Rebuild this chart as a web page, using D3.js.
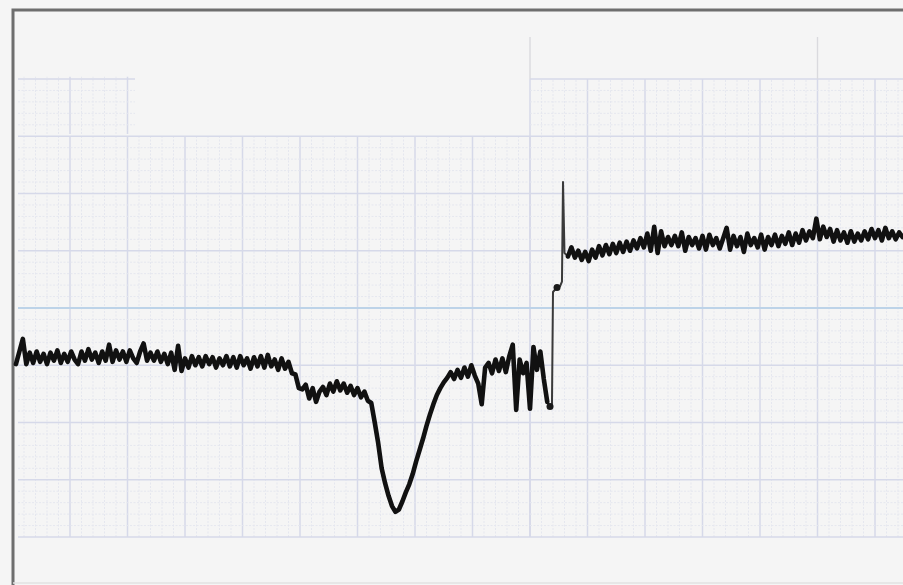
<!DOCTYPE html>
<html lang="en">
	<head>
		<meta charset="utf-8">
		<title>Chart recorder trace</title>
		<script type="text/javascript" src="https://cdn.jsdelivr.net/npm/d3@7"></script>
		<style type="text/css">
			body {
				margin: 0;
				background-color: #f5f5f5;
			}
			svg {
				display: block;
			}
		</style>
	</head>
	<body>
		<script type="text/javascript">

			//Width and height
			var w = 903;
			var h = 585;

			//Time in minor chart divisions, deflection in minor chart divisions
			var sampleStep = 0.3;

			//Before the step: baseline, slump, dip and recovery
			var traceAStart = 0.3;
			var traceA = [
				15.1, 16.2, 17.3, 15.1, 16.1, 15.2, 16.2, 15.3, 16.0, 15.1,
				16.1, 15.4, 16.3, 15.2, 16.0, 15.3, 16.2, 15.5, 15.1, 16.2,
				15.4, 16.4, 15.5, 16.1, 15.2, 16.2, 15.4, 16.8, 15.3, 16.3,
				15.5, 16.2, 15.3, 16.3, 15.6, 15.2, 16.2, 16.9, 15.4, 16.1,
				15.4, 16.2, 15.3, 16.0, 15.1, 16.1, 14.6, 16.7, 14.5, 15.6,
				14.8, 15.8, 15.0, 15.7, 14.9, 15.8, 15.1, 15.7, 14.8, 15.6,
				15.0, 15.8, 14.9, 15.7, 14.8, 15.8, 15.0, 15.6, 14.7, 15.7,
				14.9, 15.8, 14.8, 15.9, 14.9, 15.5, 14.6, 15.6, 14.7, 15.3,
				14.3, 14.2, 13.0, 12.9, 13.3, 12.1, 13.0, 11.8, 12.7, 13.1,
				12.4, 13.4, 12.7, 13.6, 12.8, 13.4, 12.6, 13.2, 12.4, 13.0,
				12.2, 12.7, 11.9, 11.7, 10.0, 8.2, 6.0, 4.7, 3.6, 2.7,
				2.2, 2.4, 3.1, 3.9, 4.6, 5.5, 6.6, 7.6, 8.6, 9.7,
				10.7, 11.6, 12.4, 13.0, 13.5, 13.9, 14.4, 13.8, 14.6, 13.9,
				14.8, 14.0, 15.0, 14.1, 13.4, 11.6, 14.8, 15.2, 14.3, 15.5,
				14.5, 15.6, 14.4, 15.8, 16.8, 11.1, 15.5, 14.3, 15.2, 11.2,
				16.6, 14.6, 16.2, 13.8, 11.8
			];

			//The fast pen swing
			var jumpTimes = [46.74, 46.91, 47.0, 47.35, 47.61, 47.78, 47.87, 48.0];
			var jumpValues = [11.4, 11.6, 21.4, 21.8, 21.9, 22.3, 31.0, 24.8];
			var jumpDots = [0, 3];

			//After the step: raised level
			var traceBStart = 48.3;
			var traceB = [
				24.5, 25.3, 24.4, 25.0, 24.2, 24.9, 24.1, 25.1, 24.4, 25.4,
				24.6, 25.5, 24.7, 25.6, 24.8, 25.7, 24.9, 25.8, 25.0, 25.9,
				25.2, 26.1, 25.3, 26.5, 25.0, 27.1, 24.8, 26.7, 25.4, 26.2,
				25.5, 26.3, 25.4, 26.6, 25.0, 26.2, 25.5, 26.1, 25.2, 26.3,
				25.1, 26.4, 25.5, 26.1, 25.2, 26.1, 27.0, 25.1, 26.3, 25.4,
				26.2, 24.9, 26.5, 25.5, 26.1, 25.3, 26.4, 25.1, 26.2, 25.5,
				26.4, 25.4, 26.3, 25.6, 26.6, 25.5, 26.5, 25.7, 26.8, 25.9,
				26.7, 26.1, 27.8, 26.0, 27.1, 26.2, 26.9, 25.8, 26.8, 25.9,
				26.6, 25.7, 26.7, 25.8, 26.5, 25.9, 26.7, 26.0, 26.9, 26.1,
				26.8, 25.9, 27.0, 26.1, 26.7, 26.0, 26.6, 26.2
			];

			//Create SVG element
			var svg = d3.select("body")
						.append("svg")
						.attr("width", w)
						.attr("height", h);

			//Create scale functions
			var xScale = d3.scaleLinear()
							.domain([0, 77.5])
							.range([12.5, 903.75]);

			var yScale = d3.scaleLinear()
							.domain([0, 40])
							.range([537, 79]);

			//Printed areas of the chart paper
			var paper = [
				{ t0: 0.48, t1: 45, v0: 0, v1: 35 },
				{ t0: 45, t1: 77.5, v0: 0, v1: 40 },
				{ t0: 0.48, t1: 10.65, v0: 35.2, v1: 40.2 }
			];

			var majorColor = "#d6d9e9";
			var minorColor = "#e5e7ef";

			var grid = svg.append("g").attr("id", "grid");

			paper.forEach(function(p) {
				var ts = d3.range(Math.ceil(p.t0), Math.floor(p.t1) + 1);
				var vs = d3.range(Math.ceil(p.v0), Math.floor(p.v1) + 1);

				grid.append("g")
					.selectAll("line")
					.data(ts)
					.enter()
					.append("line")
					.attr("x1", function(d) { return xScale(d); })
					.attr("x2", function(d) { return xScale(d); })
					.attr("y1", yScale(p.v0))
					.attr("y2", yScale(p.v1))
					.attr("stroke", function(d) { return d % 5 == 0 ? majorColor : minorColor; })
					.attr("stroke-width", function(d) { return d % 5 == 0 ? 1.5 : 1; })
					.attr("stroke-dasharray", function(d) { return d % 5 == 0 ? null : "2,1.5"; });

				grid.append("g")
					.selectAll("line")
					.data(vs.filter(function(d) { return d != 20; }))
					.enter()
					.append("line")
					.attr("x1", xScale(p.t0))
					.attr("x2", xScale(p.t1))
					.attr("y1", function(d) { return yScale(d); })
					.attr("y2", function(d) { return yScale(d); })
					.attr("stroke", function(d) { return d % 5 == 0 ? majorColor : minorColor; })
					.attr("stroke-width", function(d) { return d % 5 == 0 ? 1.5 : 1; })
					.attr("stroke-dasharray", function(d) { return d % 5 == 0 ? null : "2,1.5"; });
			});

			//Blue reference line
			grid.append("line")
				.attr("x1", xScale(0.48))
				.attr("x2", xScale(77.5))
				.attr("y1", yScale(20))
				.attr("y2", yScale(20))
				.attr("stroke", "#bdd3e8")
				.attr("stroke-width", 2.2);

			//Event ticks above the paper
			grid.selectAll("line.event")
				.data([45, 70])
				.enter()
				.append("line")
				.attr("class", "event")
				.attr("x1", function(d) { return xScale(d); })
				.attr("x2", function(d) { return xScale(d); })
				.attr("y1", 37)
				.attr("y2", yScale(40))
				.attr("stroke", "#dadade")
				.attr("stroke-width", 1.4);

			//Frame of the scan
			svg.append("path")
				.attr("d", "M13," + h + "V10H" + w)
				.attr("fill", "none")
				.attr("stroke", "#6e6e6e")
				.attr("stroke-width", 3);

			svg.append("line")
				.attr("x1", 13)
				.attr("x2", w)
				.attr("y1", 583)
				.attr("y2", 583)
				.attr("stroke", "#e2e2e2")
				.attr("stroke-width", 1.5);

			var lineGenerator = d3.line()
				.x(function(d) { return xScale(d[0]); })
				.y(function(d) { return yScale(d[1]); });

			var pointsA = traceA.map(function(v, i) { return [traceAStart + i * sampleStep, v]; });
			var pointsB = traceB.map(function(v, i) { return [traceBStart + i * sampleStep, v]; });
			var pointsJ = jumpTimes.map(function(t, i) { return [t, jumpValues[i]]; });

			//Pen swing, thin
			svg.append("path")
				.attr("d", lineGenerator([pointsA[pointsA.length - 1]].concat(pointsJ, [pointsB[0]])))
				.attr("fill", "none")
				.attr("stroke", "#3a3a3a")
				.attr("stroke-width", 2)
				.attr("stroke-linejoin", "round");

			svg.selectAll("circle")
				.data(jumpDots)
				.enter()
				.append("circle")
				.attr("cx", function(d) { return xScale(jumpTimes[d]); })
				.attr("cy", function(d) { return yScale(jumpValues[d]); })
				.attr("r", 3.5)
				.attr("fill", "#1a1a1a");

			//Noisy trace
			[pointsA, pointsB].forEach(function(pts) {
				svg.append("path")
					.attr("d", lineGenerator(pts))
					.attr("fill", "none")
					.attr("stroke", "#111")
					.attr("stroke-width", 4.6)
					.attr("stroke-linejoin", "round")
					.attr("stroke-linecap", "round");
			});

		</script>
	</body>
</html>
